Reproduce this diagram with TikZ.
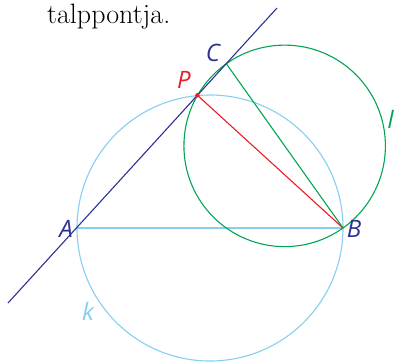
\documentclass[tikz,border=0pt]{standalone}
\usepackage{fontspec}
\newfontfamily\labfont{Open Sans}
\usetikzlibrary{calc}
\definecolor{kblue}{RGB}{135,206,240}
\definecolor{navy}{RGB}{46,49,146}
\definecolor{cgreen}{RGB}{0,166,81}
\definecolor{cred}{RGB}{237,28,36}
\begin{document}
\begin{tikzpicture}[x=1pt,y=-1pt,
  thin line/.style={line width=1.1pt},
  lab/.style={font=\labfont\itshape\fontsize{24}{24}\selectfont, inner sep=0pt}]
\useasboundingbox (0,0) rectangle (395,361);
\coordinate (A) at (77,228);
\coordinate (B) at (343,228);
\coordinate (O) at (210,228);
\coordinate (L1) at (8,303);
\coordinate (L2) at (277,8);
\coordinate (P) at ($(L1)!(B)!(L2)$);
\coordinate (C) at ($(A)!222pt!(L2)$);
% circle k
\draw[kblue, thin line] (O) circle (133);
\draw[kblue, thin line] (A) -- (B);
% green circle with diameter CB
\draw[cgreen, thin line] let \p1=($(C)-(B)$), \n1={veclen(\x1,\y1)/2} in ($(B)!0.5!(C)$) circle (\n1);
\draw[cgreen, thin line] (C) -- (B);
\draw[cred, thin line] (P) -- (B);
\draw[navy, thin line] (L1) -- (L2);
\fill[cred] (P) circle (2.2);
% labels
\node[lab, text=navy] (lA) at (66,229) {A};
\node[lab, text=navy] (lB) at (354,229) {B};
\node[lab, text=navy] (lC) at (213,53) {C};
\node[lab, text=cred] (lP) at (184,80) {P};
\node[lab, text=kblue] (lk) at (88,311) {k};
\node[lab, text=cgreen, anchor=south west] (ll) at (387.5,129) {l};
\node[font=\fontsize{28}{28}\selectfont, anchor=base west, inner sep=0pt] (t) at (47,24) {talppontja.};
\end{tikzpicture}
\end{document}
